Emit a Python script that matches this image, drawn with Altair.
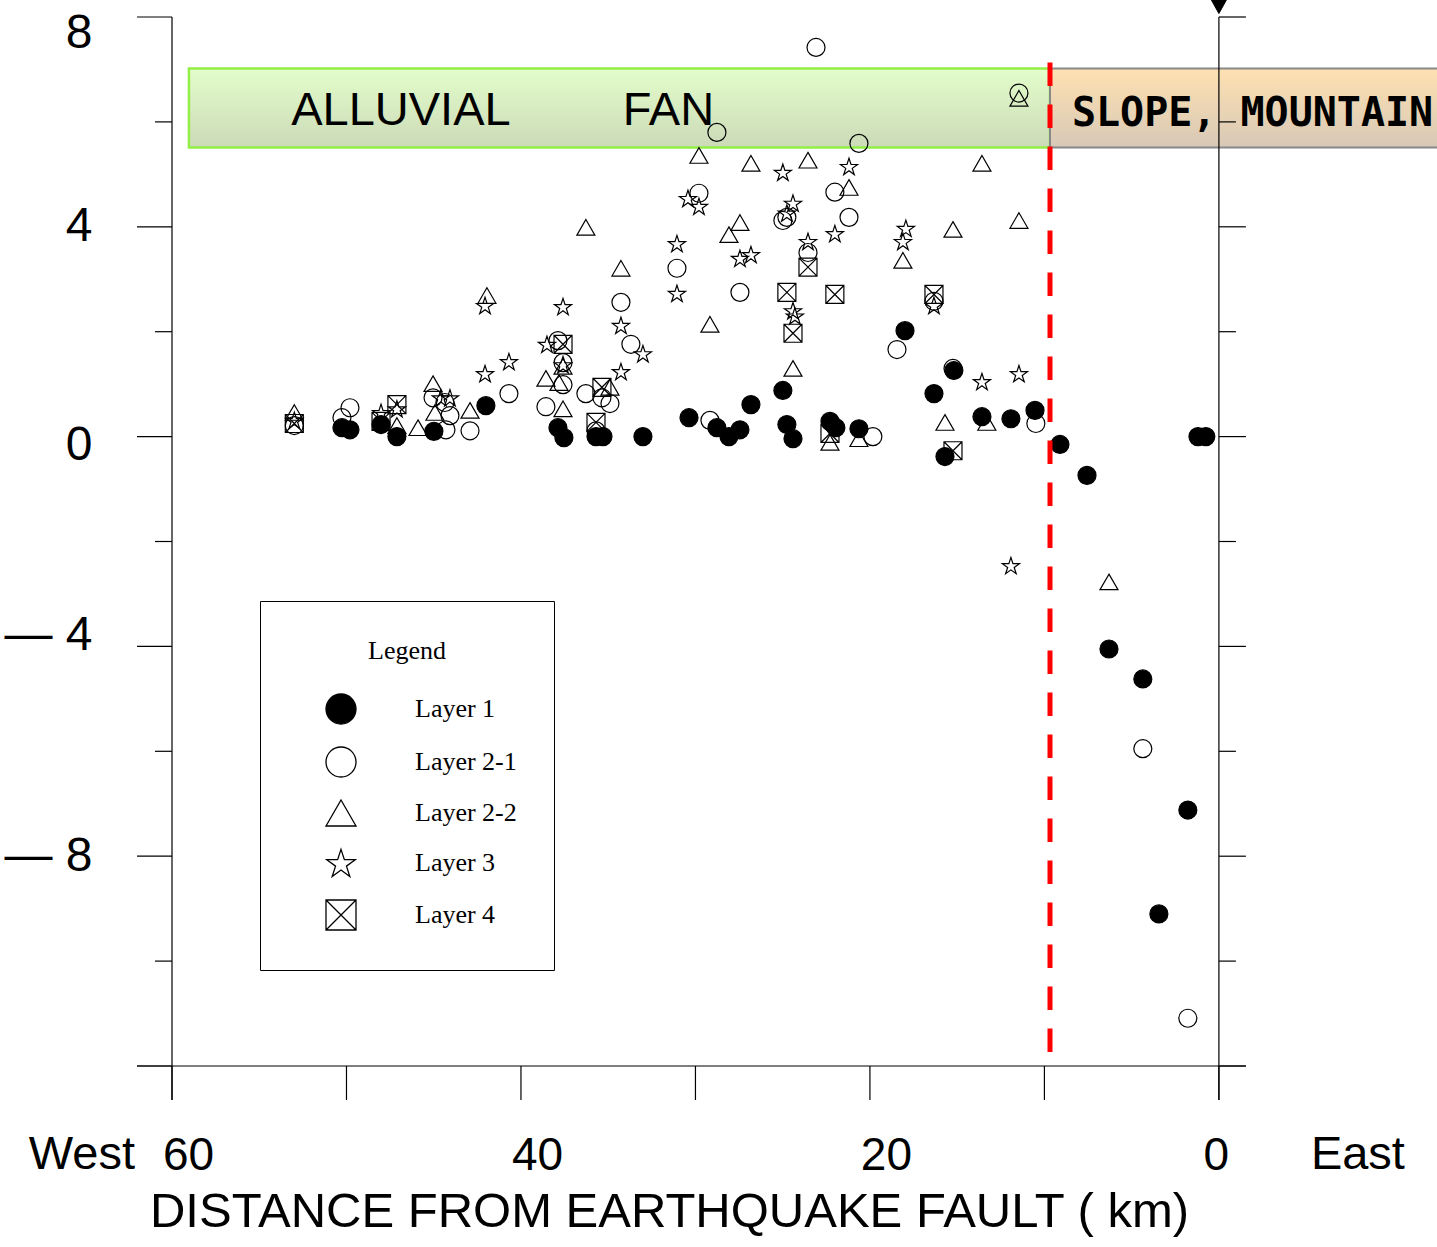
import math
import altair as alt
import pandas as pd

# ---------------- data ----------------
layer_names = ["Layer 1", "Layer 2-1", "Layer 2-2", "Layer 3", "Layer 4"]

l1_km = [50.26, 49.80, 48.02, 47.11, 44.99, 42.01, 37.88, 37.54, 35.70, 35.30,
         33.01, 30.37, 28.77, 28.08, 27.45, 26.82, 24.99, 24.76, 24.41, 22.29,
         21.95, 20.63, 17.99, 16.33, 15.19, 15.70, 13.58, 11.92, 10.54, 9.11,
         7.56, 6.30, 4.36, 1.78, 3.44, 1.20, 0.75]
l1_val = [0.17, 0.13, 0.23, 0.00, 0.10, 0.59, 0.17, -0.02, 0.00, 0.00,
          0.00, 0.36, 0.17, 0.00, 0.13, 0.61, 0.88, 0.23, -0.04, 0.29,
          0.17, 0.15, 2.02, 0.82, 1.26, -0.38, 0.38, 0.34, 0.50, -0.15,
          -0.74, -4.05, -4.62, -7.12, -9.10, 0.00, 0.00]

l21_km = [52.99, 50.26, 49.80, 45.04, 44.36, 44.07, 44.30, 42.92, 40.69, 38.57,
          37.88, 37.59, 37.59, 36.28, 35.36, 34.90, 35.70, 34.27, 33.70, 31.06,
          29.80, 28.77, 29.17, 27.45, 24.99, 24.76, 23.55, 23.09, 22.01, 21.20,
          20.63, 19.83, 18.45, 16.33, 15.24, 11.46, 10.49, 4.36, 1.78]
l21_val = [0.21, 0.36, 0.55, 0.74, 0.65, 0.40, 0.13, 0.11, 0.82, 0.57,
           1.83, 1.41, 0.99, 0.82, 0.74, 0.63, 0.11, 2.56, 1.76, 3.21,
           4.64, 5.80, 0.31, 2.75, 4.12, 4.18, 3.51, 7.42, 4.66, 4.18,
           5.59, 0.00, 1.66, 2.58, 1.30, 6.55, 0.25, -5.95, -11.09]

l22_km = [52.99, 47.11, 45.90, 45.04, 44.93, 42.92, 41.95, 38.57, 37.82, 37.59,
          37.59, 36.28, 34.90, 34.27, 29.80, 29.17, 28.08, 27.45, 26.82, 24.41,
          23.55, 22.29, 21.20, 20.63, 18.11, 15.70, 15.24, 13.58, 13.30, 11.46,
          11.46, 6.30]
l22_val = [0.46, 0.21, 0.17, 1.01, 0.46, 0.50, 2.69, 1.11, 1.03, 0.53,
           1.34, 3.99, 0.94, 3.21, 5.36, 2.14, 3.85, 4.08, 5.21, 1.30,
           5.27, -0.11, 4.75, -0.04, 3.36, 0.27, 3.95, 5.21, 0.27, 4.12,
           6.45, -2.77]

l3_km = [52.99, 48.02, 47.11, 44.59, 44.07, 42.06, 42.06, 40.69, 38.51, 37.59,
         37.59, 34.27, 34.27, 33.01, 31.06, 31.06, 30.43, 29.80, 27.45, 26.82,
         24.99, 24.76, 24.41, 24.41, 24.30, 23.55, 22.01, 21.20, 18.11, 17.94,
         16.33, 13.58, 11.46, 11.92]
l3_val = [0.31, 0.46, 0.53, 0.74, 0.74, 2.50, 1.20, 1.43, 1.76, 2.48,
          1.37, 2.12, 1.24, 1.58, 3.68, 2.73, 4.54, 4.39, 3.40, 3.47,
          5.04, 4.26, 4.45, 2.40, 2.30, 3.72, 3.87, 5.15, 3.72, 3.97,
          2.50, 1.05, 1.20, -2.46]

l4_km = [52.99, 48.02, 47.11, 37.59, 35.36, 35.70, 24.76, 24.41, 23.55, 22.29,
         22.01, 16.33, 15.24]
l4_val = [0.25, 0.29, 0.61, 1.76, 0.94, 0.27, 2.75, 1.97, 3.23, 0.06,
          2.71, 2.71, -0.27]

zone_names = ["ALLUVIAL FAN", "SLOPE, MOUNTAIN"]
zone_from_km = [59.03, 9.68]
zone_to_km = [9.68, -12.8]
boundary_km = [9.68]
fault_km = [0]

x_tick_labels = [60, 40, 20, 0]
x_ticks = [60, 50, 40, 30, 20, 10, 0]
y_tick_labels = [8, 4, 0, -4, -8]
y_ticks = [8, 6, 4, 2, 0, -2, -4, -6, -8, -10, -12]

# ---------------- geometry ----------------
X_MIN, X_MAX = -12.5, 60.0
Y_MIN, Y_MAX = -12.0, 8.0
W, H = 1265, 1049
PXK = W / (X_MAX - X_MIN)      # pixels per km
PXY = H / (Y_MAX - Y_MIN)      # pixels per unit


def kx(px):
    return px / PXK


def vy(px):
    return px / PXY


rows = []
for name, kms, vals in [("Layer 2-1", l21_km, l21_val), ("Layer 2-2", l22_km, l22_val),
                        ("Layer 3", l3_km, l3_val), ("Layer 4", l4_km, l4_val),
                        ("Layer 1", l1_km, l1_val)]:
    for k, v in zip(kms, vals):
        rows.append({"km": k, "value": v, "layer": name})
pts = pd.DataFrame(rows)

# symbol shapes
star_pts = []
for i in range(10):
    r = 1.0 if i % 2 == 0 else 0.382
    a = math.radians(-90 + 36 * i)
    star_pts.append((r * math.cos(a), r * math.sin(a) + 0.09))
star_path = "M" + "L".join(f"{x:.3f},{y:.3f}" for x, y in star_pts) + "Z"
tri_path = "M0,-0.866L1,0.866L-1,0.866Z"
sqx_path = "M-1,-1L1,-1L1,1L-1,1Z M-1,-1L1,1 M1,-1L-1,1"
tri_down = "M-1,-0.8L1,-0.8L0,1Z"

shape_range = ["circle", "circle", tri_path, star_path, sqx_path]
fill_range = ["black", "transparent", "transparent", "transparent", "transparent"]
stroke_range = ["black"] * 5

xs = alt.Scale(domain=[X_MIN, X_MAX], reverse=True, nice=False, zero=False)
ys = alt.Scale(domain=[Y_MIN, Y_MAX], nice=False, zero=False)

x_axis = alt.Axis(
    values=x_tick_labels, ticks=False, tickSize=0, domain=False, grid=False,
    labelFont="Liberation Sans", labelFontSize=46, labelColor="black",
    labelPadding=103, labelBaseline="alphabetic", labelFlush=False, labelOverlap=False,
    labelOffset={"condition": {"test": "datum.value == 0", "value": -3}, "value": 16},
    title="DISTANCE FROM EARTHQUAKE FAULT ( km)", titleFont="Liberation Sans",
    titleFontSize=49, titleFontWeight="normal", titleColor="black",
    titleX=497, titleY=160, titleAlign="center", titleBaseline="alphabetic",
)
y_axis = alt.Axis(
    values=y_tick_labels, ticks=False, tickSize=0, domain=False, grid=False,
    labelFont="Liberation Sans", labelFontSize=48, labelColor="black",
    labelPadding=80, labelBaseline="middle", labelFlush=False, labelOverlap=False,
    labelExpr="datum.value < 0 ? '\u2014 ' + abs(datum.value) : datum.label",
    labelOffset={"condition": [
        {"test": "datum.value == 8", "value": 16},
        {"test": "datum.value == 0", "value": 9},
        {"test": "datum.value == -4", "value": -11},
    ], "value": 0},
    title=None,
)


def X(f):
    return alt.X(f, type="quantitative", scale=xs, axis=x_axis)


def Y(f):
    return alt.Y(f, type="quantitative", scale=ys, axis=y_axis)


# ---------------- zone boxes ----------------
BOX_TOP, BOX_BOT = vy(436 - 68), vy(436 - 147)
zones = pd.DataFrame({"name": zone_names, "x0": zone_from_km, "x1": zone_to_km,
                      "y0": [BOX_TOP] * 2, "y1": [BOX_BOT] * 2})

green = alt.Chart(zones[zones.name == zone_names[0]]).mark_rect(
    fill=alt.Gradient(gradient="linear", x1=0, y1=0, x2=0, y2=1,
                      stops=[alt.GradientStop(color="#e3fdca", offset=0),
                             alt.GradientStop(color="#ccdab8", offset=1)]),
    stroke="#93ee48", strokeWidth=2.5, clip=False,
).encode(x=X("x0"), x2="x1", y=Y("y0"), y2="y1")

orange = alt.Chart(zones[zones.name == zone_names[1]]).mark_rect(
    fill=alt.Gradient(gradient="linear", x1=0, y1=0, x2=0, y2=1,
                      stops=[alt.GradientStop(color="#fee1b2", offset=0),
                             alt.GradientStop(color="#d7c8b6", offset=1)]),
    stroke="#888888", strokeWidth=2, clip=False,
).encode(x=X("x0"), x2="x1", y=Y("y0"), y2="y1")

fan_text = pd.DataFrame({"t": ["ALLUVIAL", "FAN"],
                         "x": [kx(1219 - 401), kx(1219 - 668.5)],
                         "y": [vy(436 - 108)] * 2})
fan_lbl = alt.Chart(fan_text).mark_text(
    font="Liberation Sans", fontSize=47, color="black", baseline="middle",
    align="center", clip=False, dy=2,
).encode(x=X("x"), y=Y("y"), text="t:N")

slope_text = pd.DataFrame({"t": [zone_names[1]], "x": [kx(1219 - 1072)], "y": [vy(436 - 111)]})
slope_lbl = alt.Chart(slope_text).mark_text(
    font="DejaVu Sans Mono", fontSize=40, fontWeight="bold", color="black",
    baseline="middle", align="left", clip=False, dy=2,
).encode(x=X("x"), y=Y("y"), text="t:N")

# ---------------- axis lines & ticks ----------------
BOT = Y_MIN - vy(34)
tick_rows = []
for v in y_ticks:
    major = (v % 4 == 0)
    tick_rows.append({"x": X_MAX, "x2": X_MAX + kx(35 if major else 17), "y": v, "y2": v})
    tick_rows.append({"x": 0, "x2": -kx(27 if major else 17), "y": v, "y2": v})
for v in x_ticks:
    tick_rows.append({"x": v, "x2": v, "y": Y_MIN, "y2": BOT})
tick_rows.append({"x": X_MAX, "x2": X_MAX, "y": Y_MAX, "y2": BOT})
tick_rows.append({"x": 0, "x2": 0, "y": Y_MAX, "y2": BOT})
tick_rows.append({"x": X_MAX + kx(35), "x2": -kx(27), "y": Y_MIN, "y2": Y_MIN})
ticks_df = pd.DataFrame(tick_rows)

frame = alt.Chart(ticks_df).mark_rule(color="black", strokeWidth=1.2, clip=False).encode(
    x=X("x"), x2="x2", y=Y("y"), y2="y2")

# West / East labels
we = pd.DataFrame({"t": ["West", "East"], "x": [kx(1219 - 82), kx(1219 - 1358)],
                   "y": [Y_MIN - vy(1169 - 1066)] * 2})
we_lbl = alt.Chart(we).mark_text(
    font="Liberation Sans", fontSize=47, color="black", baseline="alphabetic",
    align="center", clip=False,
).encode(x=X("x"), y=Y("y"), text="t:N")

# ---------------- points ----------------
leg = alt.Legend(
    title="Legend", orient="none", legendX=88, legendY=584,
    titleFont="Liberation Serif", titleFontSize=26, titleFontWeight="normal",
    titleColor="black", titleAnchor="middle", titlePadding=29,
    labelFont="Liberation Serif", labelFontSize=26, labelColor="black", labelLimit=400,
    symbolSize=900, symbolStrokeWidth=1.3, symbolStrokeColor="black",
    symbolOffset=28, labelOffset=58, rowPadding=17, padding=37,
    strokeColor="black", fillColor="white",
)
points = alt.Chart(pts).mark_point(
    filled=True, strokeWidth=1.2, opacity=1, size=324, clip=False,
).encode(
    x=X("km"), y=Y("value"),
    shape=alt.Shape("layer:N", scale=alt.Scale(domain=layer_names, range=shape_range), legend=leg),
    fill=alt.Fill("layer:N", scale=alt.Scale(domain=layer_names, range=fill_range), legend=leg),
    stroke=alt.Stroke("layer:N", scale=alt.Scale(domain=layer_names, range=stroke_range), legend=leg),
)

# ---------------- boundary and fault marker ----------------
bnd = pd.DataFrame({"x": boundary_km, "y": [vy(436 - 62)], "y2": [-vy(1052 - 436)]})
boundary = alt.Chart(bnd).mark_rule(
    color="#ff0000", strokeWidth=5, strokeDash=[23.5, 18.5], clip=False,
).encode(x=X("x"), y=Y("y"), y2="y2")

flt = pd.DataFrame({"x": fault_km, "y": [Y_MAX + vy(12)]})
fault = alt.Chart(flt).mark_point(
    shape=tri_down, filled=True, fill="black", stroke="black", strokeWidth=1,
    size=289, opacity=1, clip=False,
).encode(x=X("x"), y=Y("y"))

chart = alt.layer(
    green, orange, fan_lbl, slope_lbl, frame, we_lbl, points, boundary, fault
).properties(
    width=W, height=H,
    padding={"left": 172, "top": 17, "right": 0, "bottom": 181},
    autosize=alt.AutoSizeParams(type="none"),
    background="white",
).configure_view(strokeWidth=0)

chart.save("out.html", embed_options={"renderer": "svg", "actions": False})
